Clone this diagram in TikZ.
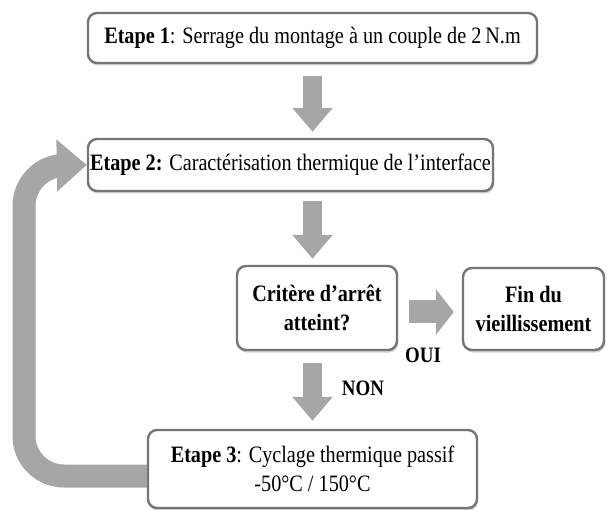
\documentclass[tikz,border=0pt]{standalone}
\usepackage{fontspec}
\setmainfont[FakeStretch=0.86]{Liberation Serif}
\usetikzlibrary{arrows.meta,shadows}
\definecolor{arrowgray}{HTML}{A6A6A6}
\definecolor{boxgray}{HTML}{757575}
\begin{document}
\begin{tikzpicture}[x=1pt, y=-1pt,
    stepbox/.style={draw=boxgray, line width=2.4pt, rounded corners=9pt, fill=white,
      align=center, inner sep=0pt, font=\fontsize{23.5}{28.5}\selectfont,
      drop shadow={shadow xshift=1pt, shadow yshift=-2.5pt, opacity=0.35}},
    boldbox/.style={stepbox, font=\fontsize{23.5}{28.5}\selectfont\bfseries},
    lbl/.style={font=\fontsize{22}{26}\selectfont\bfseries, inner sep=0pt},
    downarr/.style={draw=arrowgray, line width=19pt, -{Triangle[length=24pt, width=39pt]}},
    rightarr/.style={draw=arrowgray, line width=23pt, -{Triangle[length=18pt, width=45pt]}},
    looparr/.style={draw=arrowgray, line width=23pt, rounded corners=40pt, -{Triangle[length=30pt, width=50pt]}}
  ]
    \useasboundingbox (0,0) rectangle (610,510);

    % Etapes
    \node[stepbox, minimum width=449pt, minimum height=50pt] (etape1) at (312.5,38) {\textbf{Etape 1}: Serrage du montage à un couple de 2\,N.m};
    \node[stepbox, minimum width=405pt, minimum height=52pt] (etape2) at (290.5,165) {\textbf{Etape 2:} Caractérisation thermique de l’interface};
    \node[stepbox, minimum width=329pt, minimum height=78pt] (etape3) at (312.5,469) {\textbf{Etape 3}: Cyclage thermique passif\\-50°C / 150°C};

    % Critere
    \node[boldbox, minimum width=160pt, minimum height=84pt] (critere) at (317,308) {Critère d’arrêt\\atteint?};
    \node[boldbox, minimum width=141pt, minimum height=82pt] (fin) at (533.5,309) {Fin du\\vieillissement};

    % Labels
    \node[lbl] (oui) at (423,355) {OUI};
    \node[lbl] (non) at (363,388) {NON};

    % Fleches
    \draw[downarr] ([yshift=-12pt]etape1.south) -- ([yshift=6pt]etape1.south |- etape2.north);
    \draw[downarr] ([yshift=-9pt]etape1.south |- etape2.south) -- ([yshift=6pt]etape1.south |- critere.north);
    \draw[rightarr] ([xshift=11pt, yshift=-4pt]critere.east) -- ([xshift=-8pt, yshift=-4pt]critere.east -| fin.west);
    \draw[downarr] ([yshift=-12pt]critere.south -| etape3.north) -- ([yshift=8pt]etape3.north);

    % Boucle
    \coordinate (bend) at (24,166);
    \draw[looparr] ([yshift=-7pt]etape3.west) -| (bend) -- (etape2.west);
  \end{tikzpicture}
\end{document}
